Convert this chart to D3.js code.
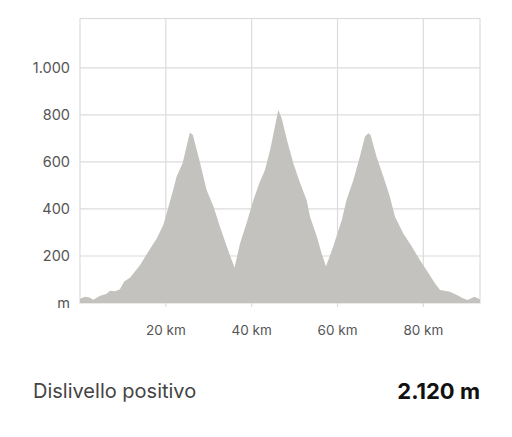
<!DOCTYPE html>
<html>
<head>
<meta charset="utf-8">
<script src="https://cdn.jsdelivr.net/npm/d3@7"></script>
<style>
  html, body { margin: 0; padding: 0; background: #fff; }
  svg { display: block; font-family: Inter, "Noto Sans", sans-serif; }
</style>
</head>
<body>
<svg id="chart" width="512" height="437"></svg>
<script>
// Distance along the route (km)
const distanceKm = [0, 1.2, 2.2, 3.1, 4.7, 6.1, 7.0, 8.2, 9.3, 10.3, 11.7, 14.0, 15.9, 17.9, 19.4, 20.2,
  21.7, 22.5, 23.9, 25.6, 26.3, 28.0, 29.5, 31.1, 32.6, 34.2, 36.0, 37.3, 38.8, 40.4, 41.9, 43.1,
  44.3, 45.4, 46.2, 47.0, 48.2, 49.7, 51.3, 52.8, 53.6, 55.2, 56.3, 57.3, 59.0, 61.0, 62.1, 63.7,
  65.2, 66.4, 67.2, 67.7, 69.1, 70.7, 72.2, 73.4, 75.3, 77.3, 79.2, 81.2, 82.7, 83.9, 86.2, 87.8,
  89.2, 90.3, 91.9, 93.2];
// Elevation (m)
const elevationM = [18, 27, 23, 14, 31, 38, 52, 50, 58, 91, 108, 162, 218, 275, 332, 382,
  481, 537, 594, 725, 715, 594, 481, 410, 325, 240, 150, 254, 339, 438, 516, 566,
  651, 750, 821, 786, 694, 594, 509, 438, 367, 282, 211, 155, 240, 353, 438, 523,
  622, 708, 722, 715, 622, 537, 452, 367, 297, 240, 183, 126, 84, 55, 48, 34,
  20, 13, 27, 16];
const yTicks = [0, 200, 400, 600, 800, 1000];
const yTickLabels = ["m", "200", "400", "600", "800", "1.000"];
const xTicks = [20, 40, 60, 80];
const xTickLabels = ["20 km", "40 km", "60 km", "80 km"];
const summaryLabel = "Dislivello positivo";
const summaryValue = "2.120 m";

(function () {
const svg = d3.select("#chart");
const mLeft = 80, mRight = 480, mTop = 18.5, mBottom = 303;
const x = d3.scaleLinear().domain([0, 93.2]).range([mLeft, mRight]);
const y = d3.scaleLinear().domain([0, 1210]).range([mBottom, mTop]);
const gridColor = "#dcdcdc";

svg.append("rect").attr("x", mLeft).attr("y", mTop).attr("width", mRight - mLeft).attr("height", mBottom - mTop)
  .attr("fill", "none").attr("stroke", gridColor).attr("stroke-width", 1.2);

svg.append("g").selectAll("line").data(yTicks.filter(d => d > 0)).join("line")
  .attr("x1", mLeft).attr("x2", mRight)
  .attr("y1", d => y(d)).attr("y2", d => y(d))
  .attr("stroke", gridColor).attr("stroke-width", 1.2);

svg.append("g").selectAll("line").data(xTicks).join("line")
  .attr("x1", d => x(d)).attr("x2", d => x(d))
  .attr("y1", mTop).attr("y2", mBottom + 4)
  .attr("stroke", gridColor).attr("stroke-width", 1.2);

const data = distanceKm.map((d, i) => [d, elevationM[i]]);
const area = d3.area().x(d => x(d[0])).y0(y(0)).y1(d => y(d[1])).curve(d3.curveLinear);
svg.append("path").datum(data).attr("d", area).attr("fill", "#c3c2be");

svg.append("g").selectAll("text").data(yTicks).join("text")
  .attr("x", 70).attr("y", d => y(d))
  .attr("dy", "0.35em").attr("text-anchor", "end")
  .attr("font-size", 14.5).attr("fill", "#555")
  .text((d, i) => yTickLabels[i]);

svg.append("g").selectAll("text").data(xTicks).join("text")
  .attr("x", d => x(d)).attr("y", 330)
  .attr("dy", "0.35em").attr("text-anchor", "middle")
  .attr("font-size", 13.5).attr("fill", "#555")
  .text((d, i) => xTickLabels[i]);

svg.append("text").attr("x", 33).attr("y", 398)
  .attr("font-size", 20).attr("fill", "#444").text(summaryLabel);
svg.append("text").attr("x", 480).attr("y", 399).attr("text-anchor", "end")
  .attr("font-size", 22).attr("font-weight", "bold").attr("fill", "#111").text(summaryValue);
})();
</script>
</body>
</html>
